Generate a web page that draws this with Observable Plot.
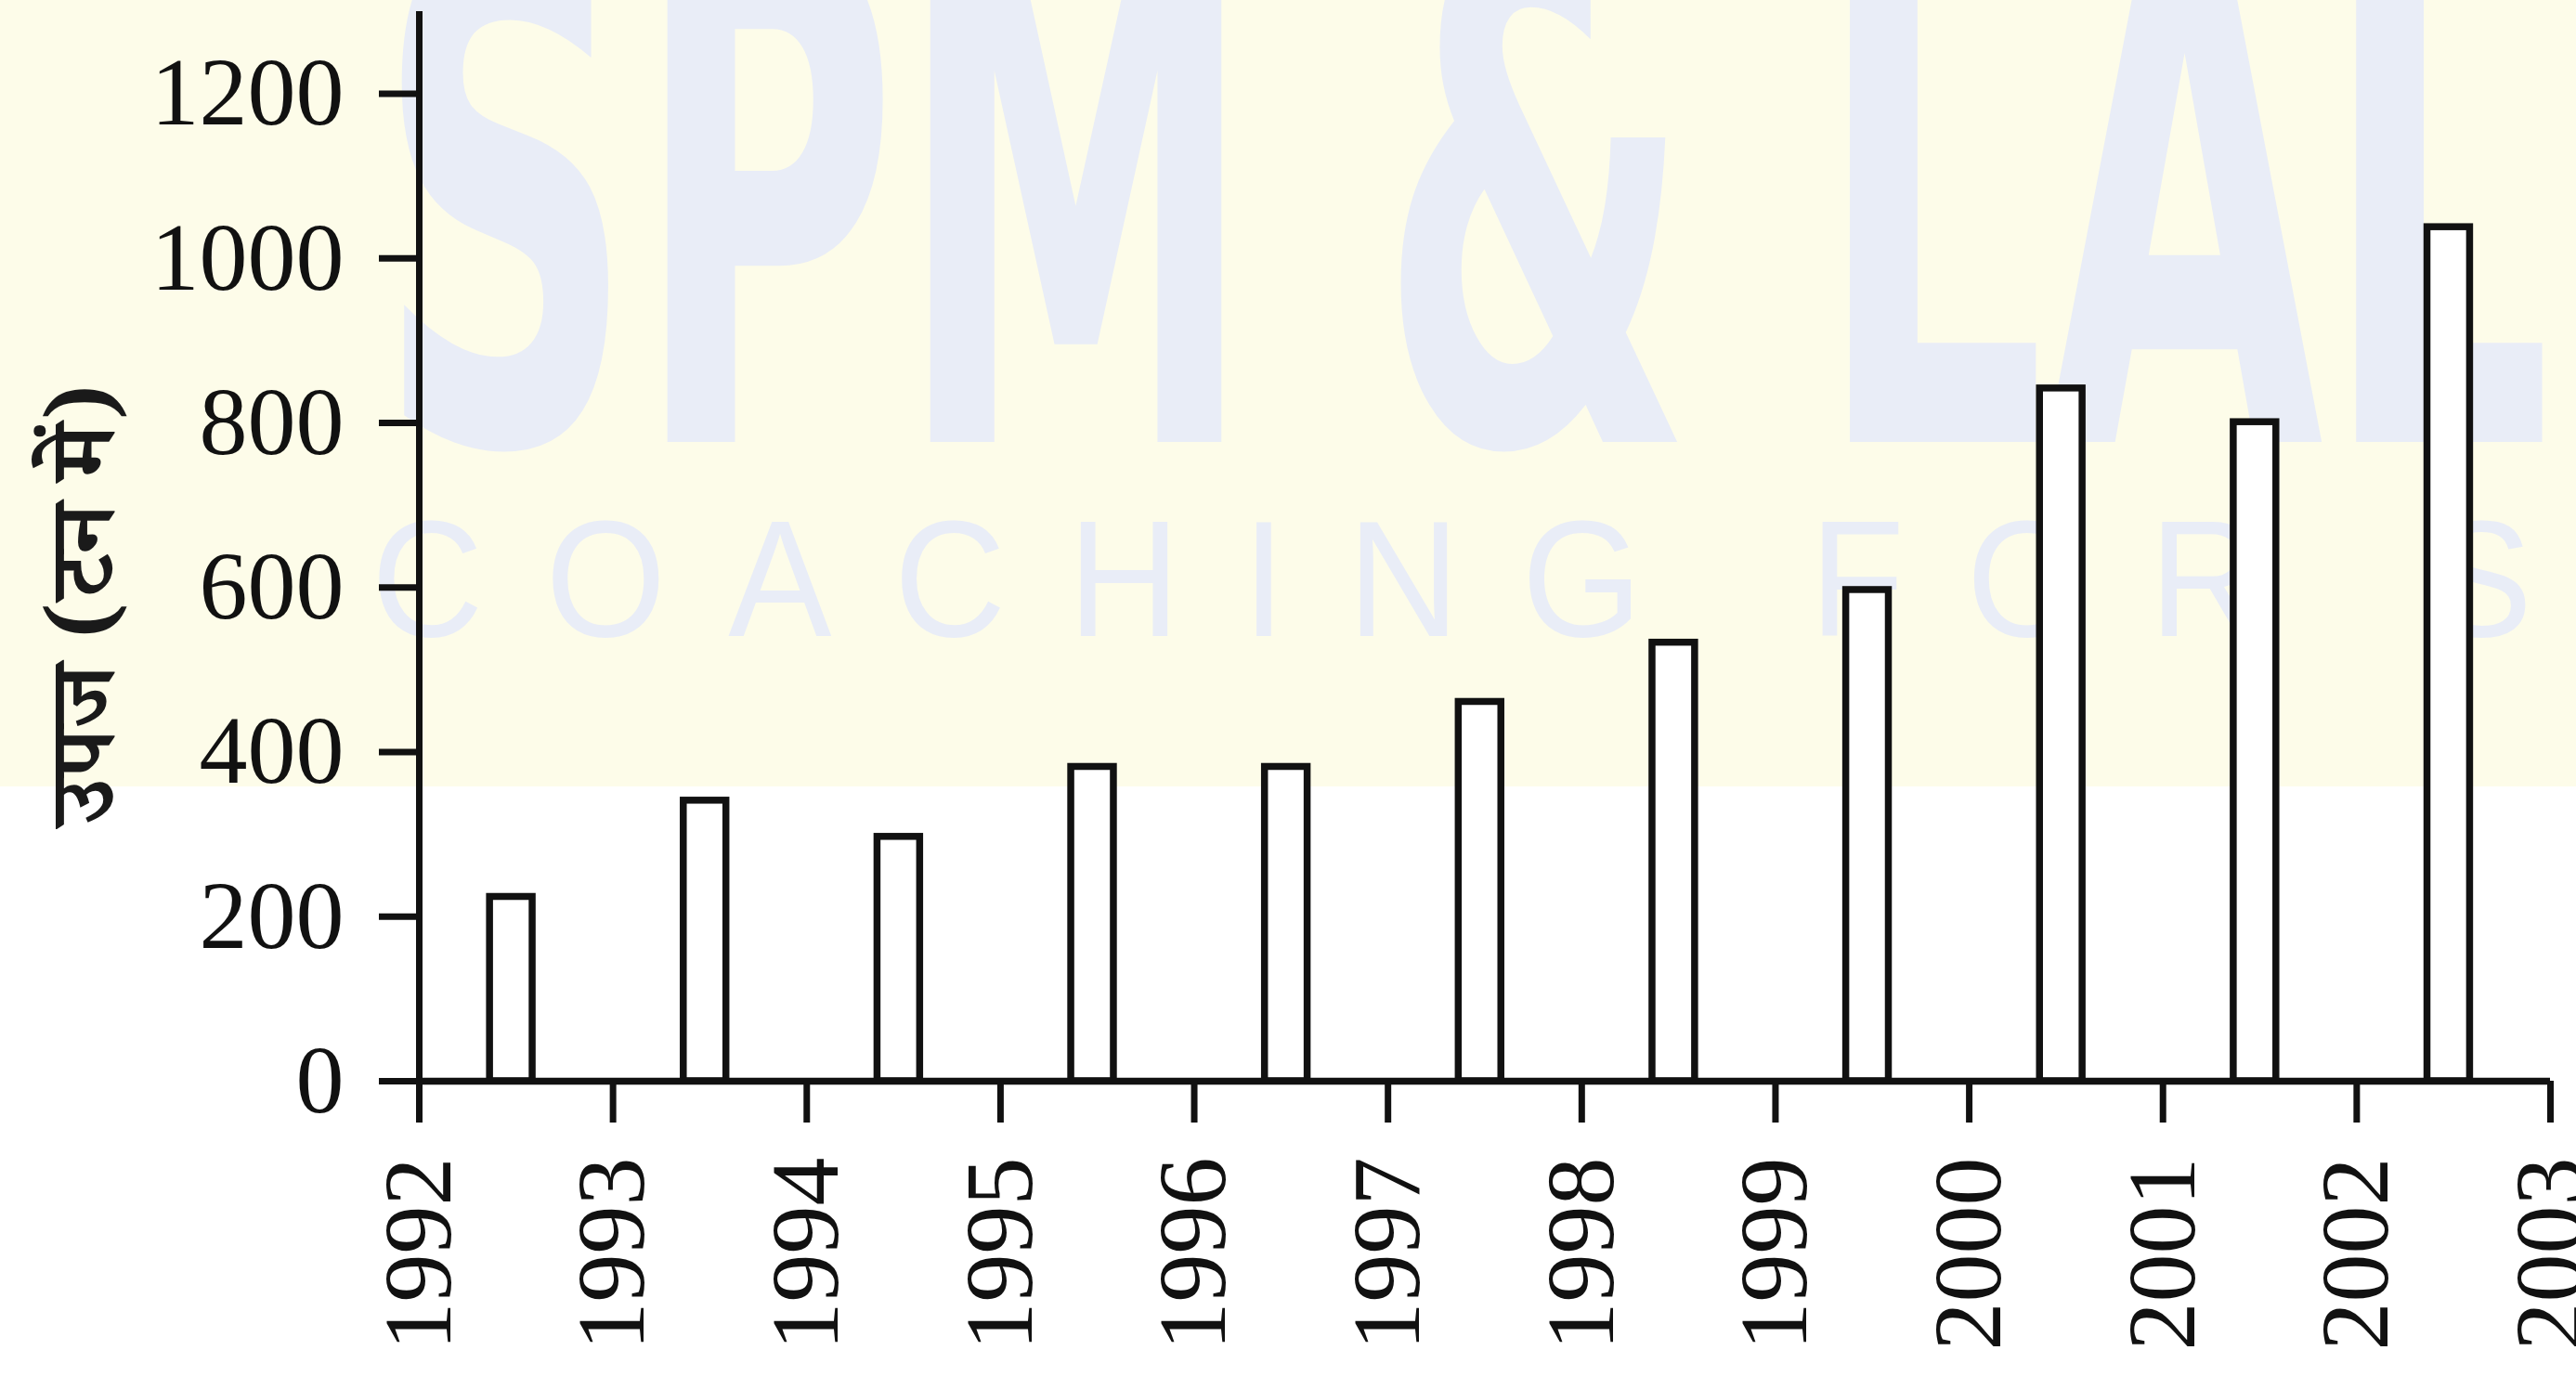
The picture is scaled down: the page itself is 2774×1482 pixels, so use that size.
<!DOCTYPE html>
<html><head><meta charset="utf-8">
<script src="https://cdn.jsdelivr.net/npm/d3@7"></script>
<script src="https://cdn.jsdelivr.net/npm/@observablehq/plot@0.6"></script>
<style>
html,body{margin:0;padding:0;background:#fff;}
#wrap{position:relative;width:2774px;height:1482px;overflow:hidden;
 background:linear-gradient(to bottom,#fdfce9 0px,#fdfce9 847px,#ffffff 847px);}
.wm{position:absolute;left:0;top:0;white-space:pre;color:#e9edf7;transform-origin:0 0;display:inline-block;}
#wm1{font-family:'Liberation Sans Narrow','DejaVu Sans',sans-serif;font-weight:bold;font-size:500px;font-stretch:condensed;line-height:0.75;}
#wm2{font-family:'Liberation Sans',Arial,sans-serif;font-size:179px;letter-spacing:72px;line-height:0.8;}
#chart{position:absolute;left:0;top:0;}
</style></head><body>
<div id="wrap"><div id="wm1" class="wm">SPM &amp; LAL</div><div id="wm2" class="wm">COACHING FOR S</div><div id="chart"></div></div>
<script>
// ---- data ----
const years = [1992, 1993, 1994, 1995, 1996, 1997, 1998, 1999, 2000, 2001, 2002];
const production = [224, 341, 297, 382, 382, 461, 533, 597, 842, 801, 1038];
const yTicks = [0, 200, 400, 600, 800, 1000, 1200];
const xTicks = [1992, 1993, 1994, 1995, 1996, 1997, 1998, 1999, 2000, 2001, 2002, 2003];
const yLabel = "उपज (टन में)";

// ---- watermark (background decoration) ----
function fit(el, x0, x1, capTop, baseline, fs, lh, trailing) {
  const r = el.getBoundingClientRect();
  const w = r.width - (trailing || 0);
  const sx = (x1 - x0) / w;
  const sy = (baseline - capTop) / (0.716 * fs);
  const y0 = baseline - ((lh - 1.117) / 2 + 0.905) * fs * sy;
  el.style.transform = `translate(${x0}px, ${y0}px) scale(${sx}, ${sy})`;
}
fit(document.getElementById("wm1"), 405, 2748, -60, 477, 500, 0.75, 0);
fit(document.getElementById("wm2"), 400, 2727, 558, 686, 179, 0.8, 72);

// ---- chart ----
const data = years.map((year, i) => ({year, value: production[i]}));
const ink = "#111";
const chart = Plot.plot({
  width: 2774,
  height: 1482,
  marginLeft: 451,
  marginRight: 28,
  marginTop: 12,
  marginBottom: 318,
  style: {background: "transparent", fontFamily: "'Liberation Serif','DejaVu Serif',serif", fontSize: "104px", color: ink},
  x: {domain: [1992, 2003]},
  y: {domain: [0, 1300]},
  marks: [
    Plot.rectY(data, {x1: d => d.year + 0.365, x2: d => d.year + 0.585, y1: 0, y2: "value",
      fill: "white", stroke: ink, strokeWidth: 7.5}),
    Plot.ruleY([0], {stroke: ink, strokeWidth: 7.5}),
    Plot.ruleX([1992], {stroke: ink, strokeWidth: 7}),
    Plot.axisX({ticks: xTicks, tickFormat: d => String(d), tickRotate: -90, tickSize: 45, tickPadding: 37,
      strokeWidth: 7, label: null, fontSize: 104}),
    Plot.axisY({ticks: yTicks, tickFormat: d => String(d), tickSize: 43, tickPadding: 38,
      strokeWidth: 7, label: null, fontSize: 104}),
    Plot.text([yLabel], {frameAnchor: "left", dx: -361, dy: 62, rotate: -90, fontSize: 100, fontWeight: 600,
      fontFamily: "'Noto Serif Devanagari','Noto Sans Devanagari','Lohit Devanagari',FreeSerif,sans-serif",
      fill: "#1a1a1a", textAnchor: "middle", lineAnchor: "middle"})
  ]
});
document.getElementById("chart").appendChild(chart);
</script>
</body></html>
